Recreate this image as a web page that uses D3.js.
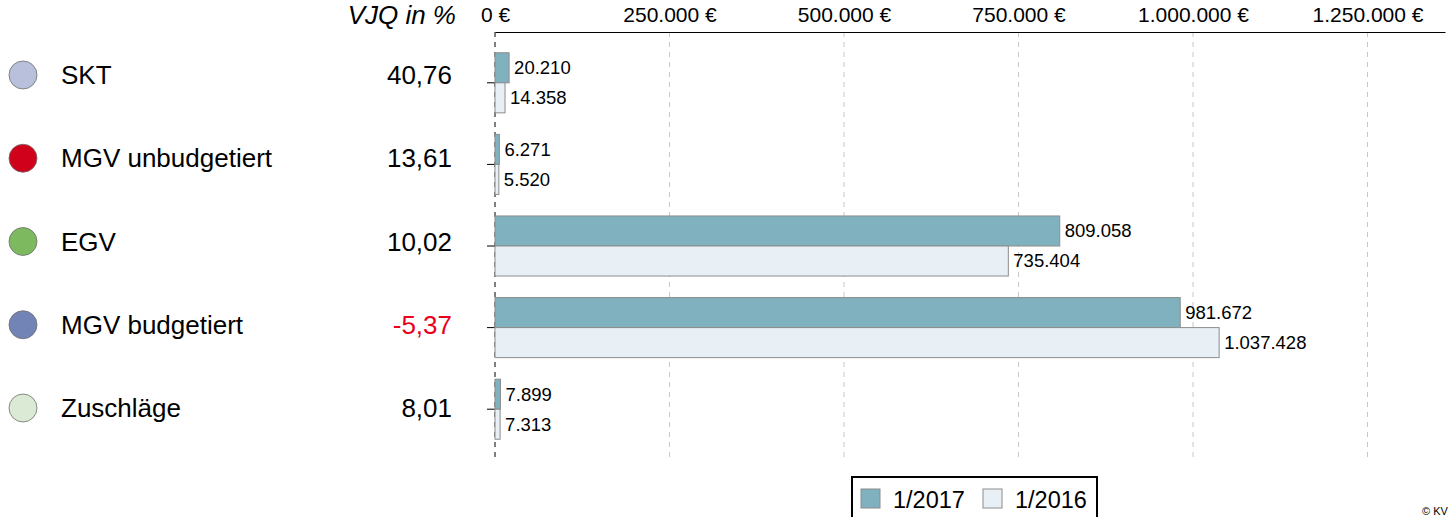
<!DOCTYPE html>
<html>
<head>
<meta charset="utf-8">
<script src="https://cdn.jsdelivr.net/npm/d3@7"></script>
<style>
  body { margin: 0; background: #fff; }
  text { font-family: "Liberation Sans", Arial, sans-serif; }
</style>
</head>
<body>
<div id="chart"></div>
<script>
// Data
const categories = ["SKT", "MGV unbudgetiert", "EGV", "MGV budgetiert", "Zuschläge"];
const dotColors = ["#b8c0dc", "#d0021b", "#7dba5f", "#7283b5", "#dbead4"];
const vjq = [40.76, 13.61, 10.02, -5.37, 8.01];
const series = ["1/2017", "1/2016"];
const values2017 = [20210, 6271, 809058, 981672, 7899];
const values2016 = [14358, 5520, 735404, 1037428, 7313];
const tickValues = [0, 250000, 500000, 750000, 1000000, 1250000];

const width = 1454, height = 517;
const fmt = d3.formatLocale({ decimal: ",", thousands: ".", grouping: [3], currency: ["", " €"], minus: "-" });
const fmtInt = fmt.format(",d");
const fmtPct = fmt.format(",.2f");

const svg = d3.select("#chart").append("svg")
    .attr("width", width)
    .attr("height", height);

// Scales
const x = d3.scaleLinear()
    .domain([0, 1361000])
    .range([495, 1445]);

const y = d3.scaleBand()
    .domain(categories)
    .range([42, 450])
    .paddingInner(0.264)
    .paddingOuter(0.132);

// left-hand table rows sit slightly off the bar groups
const yTable = d3.scalePoint()
    .domain(categories)
    .range([75, 408]);

const ySub = d3.scaleBand()
    .domain(series)
    .range([0, y.bandwidth()]);

const color = d3.scaleOrdinal()
    .domain(series)
    .range(["#80b1bf", "#e8f0f6"]);

// Grid lines
svg.append("g")
    .selectAll("line")
    .data(tickValues.slice(1))
    .enter().append("line")
    .attr("x1", d => x(d))
    .attr("x2", d => x(d))
    .attr("y1", 32)
    .attr("y2", 462)
    .attr("stroke", "#c8c8c8")
    .attr("stroke-dasharray", "5,5");

// Top axis
const xAxis = svg.append("g")
    .attr("transform", "translate(0,32)")
    .call(d3.axisTop(x)
        .tickValues(tickValues)
        .tickSize(0)
        .tickPadding(10)
        .tickFormat(d => fmtInt(d) + " €"));
xAxis.select(".domain").attr("stroke", "#000").attr("stroke-width", 1.2);
xAxis.selectAll("text").style("font-size", "21px").attr("fill", "#000");

// Zero line (dashed)
svg.append("line")
    .attr("x1", x(0)).attr("x2", x(0))
    .attr("y1", 32).attr("y2", 462)
    .attr("stroke", "#000")
    .attr("stroke-dasharray", "5,5");

// Category ticks
svg.append("g")
    .selectAll("line")
    .data(categories)
    .enter().append("line")
    .attr("x1", x(0) - 8).attr("x2", x(0))
    .attr("y1", d => y(d) + y.bandwidth() / 2)
    .attr("y2", d => y(d) + y.bandwidth() / 2)
    .attr("stroke", "#000");

// Bars
const rows = categories.map((c, i) => ({ cat: c, vals: [values2017[i], values2016[i]] }));

const group = svg.selectAll(".row")
    .data(rows)
    .enter().append("g")
    .attr("class", "row")
    .attr("transform", d => `translate(0,${y(d.cat)})`);

group.selectAll("rect")
    .data(d => d.vals.map((v, j) => ({ s: series[j], v })))
    .enter().append("rect")
    .attr("x", x(0))
    .attr("y", d => ySub(d.s))
    .attr("width", d => x(d.v) - x(0))
    .attr("height", ySub.bandwidth())
    .attr("fill", d => color(d.s))
    .attr("stroke", "#8c8c8c")
    .attr("stroke-width", 1);

group.selectAll("text")
    .data(d => d.vals.map((v, j) => ({ s: series[j], v })))
    .enter().append("text")
    .attr("x", d => x(d.v) + 5)
    .attr("y", d => ySub(d.s) + ySub.bandwidth() / 2)
    .attr("dy", "0.35em")
    .style("font-size", "18.5px")
    .text(d => fmtInt(d.v));

// Left labels
const left = svg.selectAll(".lbl")
    .data(categories)
    .enter().append("g")
    .attr("class", "lbl")
    .attr("transform", d => `translate(0,${yTable(d)})`);

left.append("circle")
    .attr("cx", 23)
    .attr("r", 14)
    .attr("fill", (d, i) => dotColors[i])
    .attr("stroke", "#6e6e6e")
    .attr("stroke-width", 0.8);

left.append("text")
    .attr("x", 61)
    .attr("dy", "0.35em")
    .style("font-size", "26px")
    .text(d => d);

left.append("text")
    .attr("x", 452)
    .attr("dy", "0.35em")
    .attr("text-anchor", "end")
    .style("font-size", "26px")
    .attr("fill", (d, i) => vjq[i] < 0 ? "#e8001c" : "#000")
    .text((d, i) => fmtPct(vjq[i]));

// Header
svg.append("text")
    .attr("x", 456)
    .attr("y", 24)
    .attr("text-anchor", "end")
    .style("font-size", "26px")
    .style("font-style", "italic")
    .text("VJQ in %");

// Legend
const legend = svg.append("g")
    .attr("transform", "translate(852,477)");

legend.append("rect")
    .attr("width", 245)
    .attr("height", 50)
    .attr("fill", "#fff")
    .attr("stroke", "#000")
    .attr("stroke-width", 2);

const legendItems = legend.selectAll(".legend-item")
    .data(series)
    .enter().append("g")
    .attr("class", "legend-item")
    .attr("transform", (d, i) => `translate(${9 + i * 122},12)`);

legendItems.append("rect")
    .attr("width", 19)
    .attr("height", 19)
    .attr("fill", color)
    .attr("stroke", "#8c8c8c");

legendItems.append("text")
    .attr("x", 32)
    .attr("y", 19)
    .style("font-size", "23.5px")
    .text(d => d);

// Copyright
svg.append("text")
    .attr("x", 1422)
    .attr("y", 515)
    .style("font-size", "11px")
    .text("© KV");
</script>
</body>
</html>
